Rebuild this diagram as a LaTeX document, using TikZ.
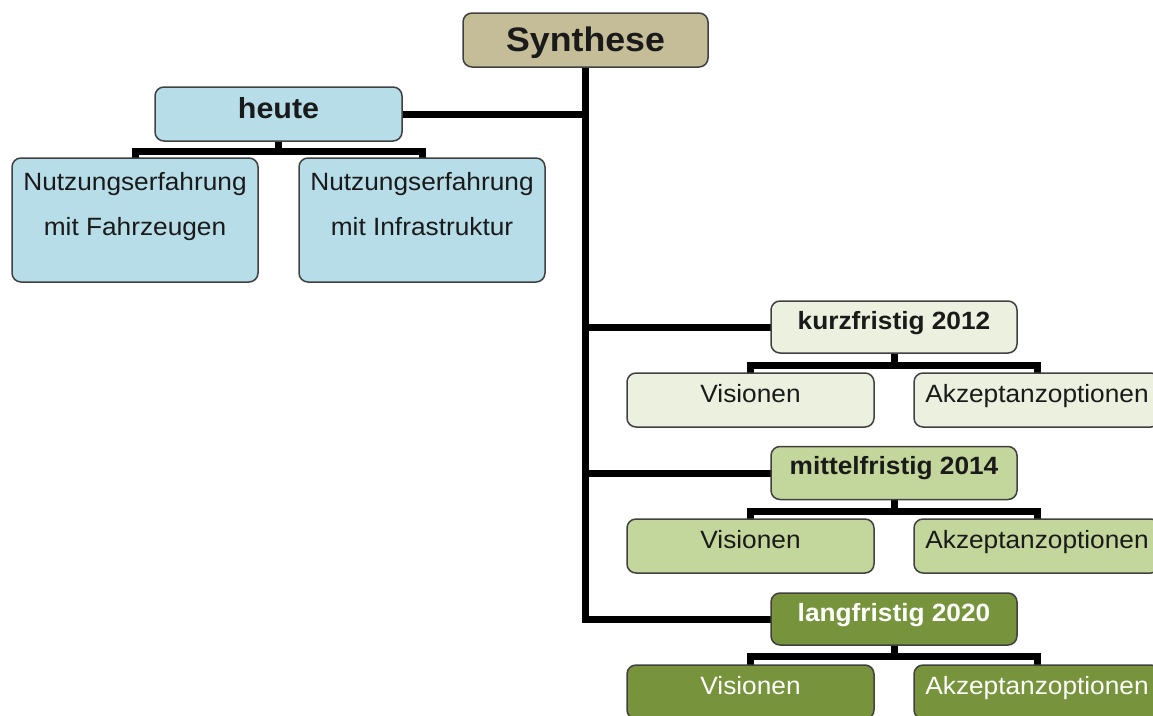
\documentclass[tikz,border=0pt]{standalone}
\usepackage{fontspec}
\setmainfont{Liberation Sans}[FakeStretch=1.05]
\usetikzlibrary{calc}
\definecolor{bordercol}{HTML}{404040}
\definecolor{tancol}{HTML}{C4BD97}
\definecolor{bluecol}{HTML}{B7DEE8}
\definecolor{kurzcol}{HTML}{EBF1DE}
\definecolor{mittelcol}{HTML}{C3D69B}
\definecolor{langcol}{HTML}{77933C}
\definecolor{txtcol}{HTML}{1A1A1A}
\begin{document}
\begin{tikzpicture}[x=1pt,y=-1pt,
  box/.style={inner sep=0pt, outer sep=0pt, minimum width=246pt, minimum height=54pt},
  boxdraw/.style={draw=bordercol, line width=1.5pt, rounded corners=9pt},
  conn/.style={draw=black, line width=7pt, line join=miter},
  txt/.style={inner sep=0pt, text=txtcol, align=center},
  big/.style={font=\fontsize{34}{38}\selectfont\bfseries},
  mid/.style={font=\fontsize{29}{33}\selectfont\bfseries},
  hd/.style={font=\fontsize{25}{29}\selectfont\bfseries},
  nrm/.style={font=\fontsize{25}{29}\selectfont},
]
\useasboundingbox (0,0) rectangle (1153,715);
% box shapes
\node[box, minimum width=245pt] (syn) at (585.5,40) {};
\node[box, minimum width=247pt] (heute) at (278.5,114) {};
\node[box, minimum height=124pt] (c1) at (135,220) {};
\node[box, minimum height=124pt] (c2) at (422,220) {};
\node[box, minimum height=52pt] (kurz) at (894,327) {};
\node[box, minimum width=247pt] (kv) at (750.5,400) {};
\node[box] (ka) at (1037,400) {};
\node[box, minimum height=53pt] (mittel) at (894,473) {};
\node[box, minimum width=247pt] (mv) at (750.5,546) {};
\node[box] (ma) at (1037,546) {};
\node[box, minimum height=52pt] (lang) at (894,619) {};
\node[box, minimum width=247pt] (lv) at (750.5,692) {};
\node[box] (la) at (1037,692) {};

% connectors
\coordinate (hb) at ($(c1.north)+(0,-7)$);
\coordinate (kb) at ($(kv.north)+(0,-8)$);
\coordinate (mb) at ($(mv.north)+(0,-8)$);
\coordinate (lb) at ($(lv.north)+(0,-9)$);
\draw[conn] (syn.south) -- (syn.south |- lang.west) -- (lang.west);
\draw[conn] (heute.east) -- (heute.east -| syn.south);
\draw[conn] (kurz.west -| syn.south) -- (kurz.west);
\draw[conn] (mittel.west -| syn.south) -- (mittel.west);
\draw[conn] (c1.north) |- (hb) -| (c2.north);
\draw[conn] (heute.south) -- (heute.south |- hb);
\draw[conn] (kv.north) |- (kb) -| (ka.north);
\draw[conn] (kurz.south) -- (kurz.south |- kb);
\draw[conn] (mv.north) |- (mb) -| (ma.north);
\draw[conn] (mittel.south) -- (mittel.south |- mb);
\draw[conn] (lv.north) |- (lb) -| (la.north);
\draw[conn] (lang.south) -- (lang.south |- lb);
% boxes on top
\foreach \n/\c in {syn/tancol,heute/bluecol,c1/bluecol,c2/bluecol,kurz/kurzcol,kv/kurzcol,ka/kurzcol,mittel/mittelcol,mv/mittelcol,ma/mittelcol,lang/langcol,lv/langcol,la/langcol}{
  \draw[boxdraw, fill=\c] (\n.north west) rectangle (\n.south east);
}
% texts
\node[txt, big, anchor=base] (synt) at ($(syn.north)+(0,38)$) {Synthese};
\node[txt, mid, anchor=base] (heutet) at ($(heute.north)+(0,31)$) {heute};
\node[txt, nrm, anchor=base] (c1a) at ($(c1.north)+(0,32)$) {Nutzungserfahrung};
\node[txt, nrm, anchor=base] (c1b) at ($(c1.north)+(0,77)$) {mit Fahrzeugen};
\node[txt, nrm, anchor=base] (c2a) at ($(c2.north)+(0,32)$) {Nutzungserfahrung};
\node[txt, nrm, anchor=base] (c2b) at ($(c2.north)+(0,77)$) {mit Infrastruktur};
\node[txt, hd, anchor=base] (kurzt) at ($(kurz.north)+(0,28)$) {kurzfristig 2012};
\node[txt, nrm, anchor=base] (kvt) at ($(kv.north)+(0,29)$) {Visionen};
\node[txt, nrm, anchor=base] (kat) at ($(ka.north)+(0,29)$) {Akzeptanzoptionen};
\node[txt, hd, anchor=base] (mittelt) at ($(mittel.north)+(0,28)$) {mittelfristig 2014};
\node[txt, nrm, anchor=base] (mvt) at ($(mv.north)+(0,29)$) {Visionen};
\node[txt, nrm, anchor=base] (mat) at ($(ma.north)+(0,29)$) {Akzeptanzoptionen};
\node[txt, hd, anchor=base, text=white] (langt) at ($(lang.north)+(0,28)$) {langfristig 2020};
\node[txt, nrm, anchor=base, text=white] (lvt) at ($(lv.north)+(0,29)$) {Visionen};
\node[txt, nrm, anchor=base, text=white] (lat) at ($(la.north)+(0,29)$) {Akzeptanzoptionen};
\end{tikzpicture}
\end{document}
